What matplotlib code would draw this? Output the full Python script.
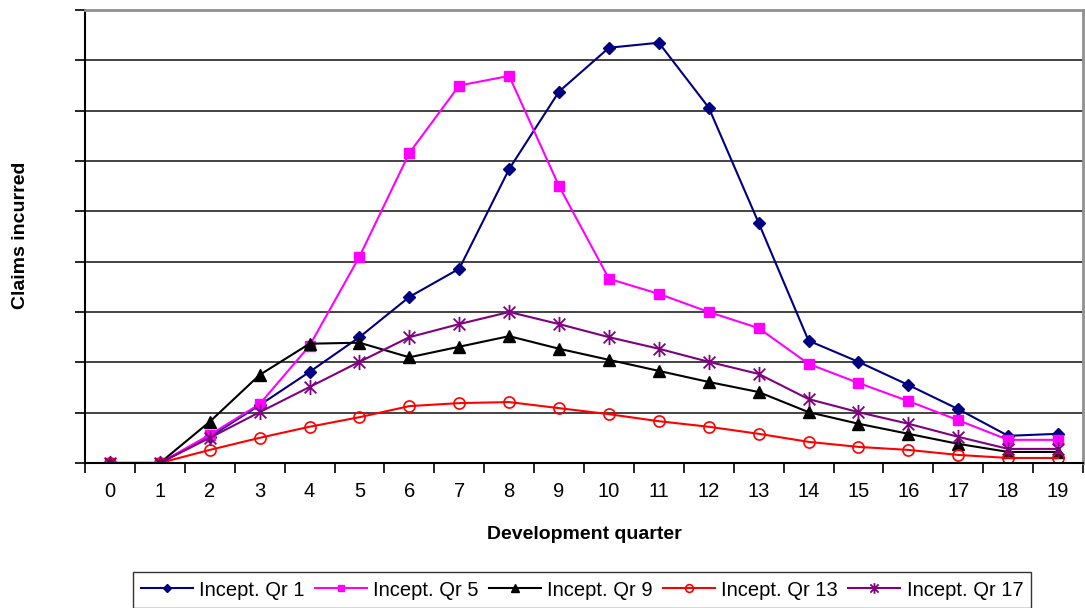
import matplotlib.pyplot as plt
import numpy as np
from matplotlib.path import Path

plt.rcParams['font.family'] = ['Liberation Sans', 'DejaVu Sans']

# Development quarters and incurred claims per inception quarter
quarters = list(range(20))
qr1 = [0, 0, 0.52, 1.15, 1.81, 2.5, 3.3, 3.86, 5.84, 7.38, 8.25, 8.35, 7.06, 4.77, 2.43, 2.01, 1.55, 1.07, 0.54, 0.58]
qr5 = [0, 0, 0.56, 1.17, 2.33, 4.1, 6.16, 7.5, 7.69, 5.5, 3.66, 3.36, 3.0, 2.68, 1.97, 1.59, 1.23, 0.85, 0.46, 0.46]
qr9 = [0, 0, 0.82, 1.75, 2.37, 2.39, 2.1, 2.31, 2.52, 2.27, 2.05, 1.83, 1.61, 1.41, 1.01, 0.78, 0.58, 0.38, 0.22, 0.22]
qr13 = [0, 0, 0.26, 0.5, 0.72, 0.91, 1.13, 1.19, 1.21, 1.09, 0.97, 0.83, 0.72, 0.58, 0.42, 0.32, 0.26, 0.16, 0.1, 0.1]
qr17 = [0, 0, 0.5, 1.01, 1.51, 2.01, 2.5, 2.76, 3.0, 2.76, 2.5, 2.27, 2.01, 1.77, 1.27, 1.01, 0.78, 0.52, 0.28, 0.28]
labels = ['Incept. Qr 1', 'Incept. Qr 5', 'Incept. Qr 9', 'Incept. Qr 13', 'Incept. Qr 17']

# asterisk marker: an x crossed by a vertical bar
star = Path([(-1, -1), (1, 1), (-1, 1), (1, -1), (0, -1.3), (0, 1.3)],
            [Path.MOVETO, Path.LINETO, Path.MOVETO, Path.LINETO, Path.MOVETO, Path.LINETO])

fig = plt.figure(figsize=(10.85, 6.08), dpi=100)
ax = fig.add_axes([85/1085, 1 - 463/608, 998/1085, 453/608])

x = np.array(quarters)
ax.plot(x, qr1, color='#000080', marker='D', ms=6.5, lw=1.5, label=labels[0])
ax.plot(x, qr5, color='#ff00ff', marker='s', ms=7, lw=1.5, label=labels[1])
ax.plot(x, qr9, color='black', marker='^', ms=8, lw=1.5, label=labels[2])
ax.plot(x, qr13, color='#ff0000', marker='o', ms=8, mfc='none', mew=1.2, lw=1.5, label=labels[3])
ax.plot(x, qr17, color='#800080', marker=star, ms=11, mew=1.3, lw=1.5, label=labels[4])

ax.set_xlim(-0.5, 19.5)
ax.set_ylim(0, 9)
ax.set_yticks(np.arange(0, 10))
ax.set_yticklabels([])
ax.yaxis.grid(True, color='#222222', lw=1.2)
ax.set_axisbelow(True)
ax.set_xticks(x)
ax.set_xticks(np.arange(-0.5, 20, 1), minor=True)
ax.tick_params(axis='x', which='major', length=0, labelsize=14.5, pad=14)
ax.tick_params(axis='x', which='minor', length=7, width=1.2)
ax.tick_params(axis='y', length=7, width=1.2)

ax.spines['left'].set_color('black')
ax.spines['left'].set_linewidth(1.5)
ax.spines['bottom'].set_color('black')
ax.spines['bottom'].set_linewidth(1.5)
ax.spines['top'].set_color('#909090')
ax.spines['top'].set_linewidth(2)
ax.spines['right'].set_color('#909090')
ax.spines['right'].set_linewidth(2)

ax.set_xlabel('Development quarter', fontsize=14, fontweight='bold', labelpad=18)
fig.text(21/1085, 1 - 235/608, 'Claims incurred', rotation=90, fontsize=14,
         fontweight='bold', ha='center', va='center')

leg = fig.legend(loc='center', bbox_to_anchor=(582/1085, 1 - 590/608), ncol=5,
                 fontsize=14.5, frameon=True, fancybox=False, edgecolor='black',
                 handlelength=2.6, handletextpad=0.3, columnspacing=0.5,
                 borderpad=0.4, markerscale=0.7)
leg.get_frame().set_linewidth(1)

fig.savefig('out.png', dpi=100)
